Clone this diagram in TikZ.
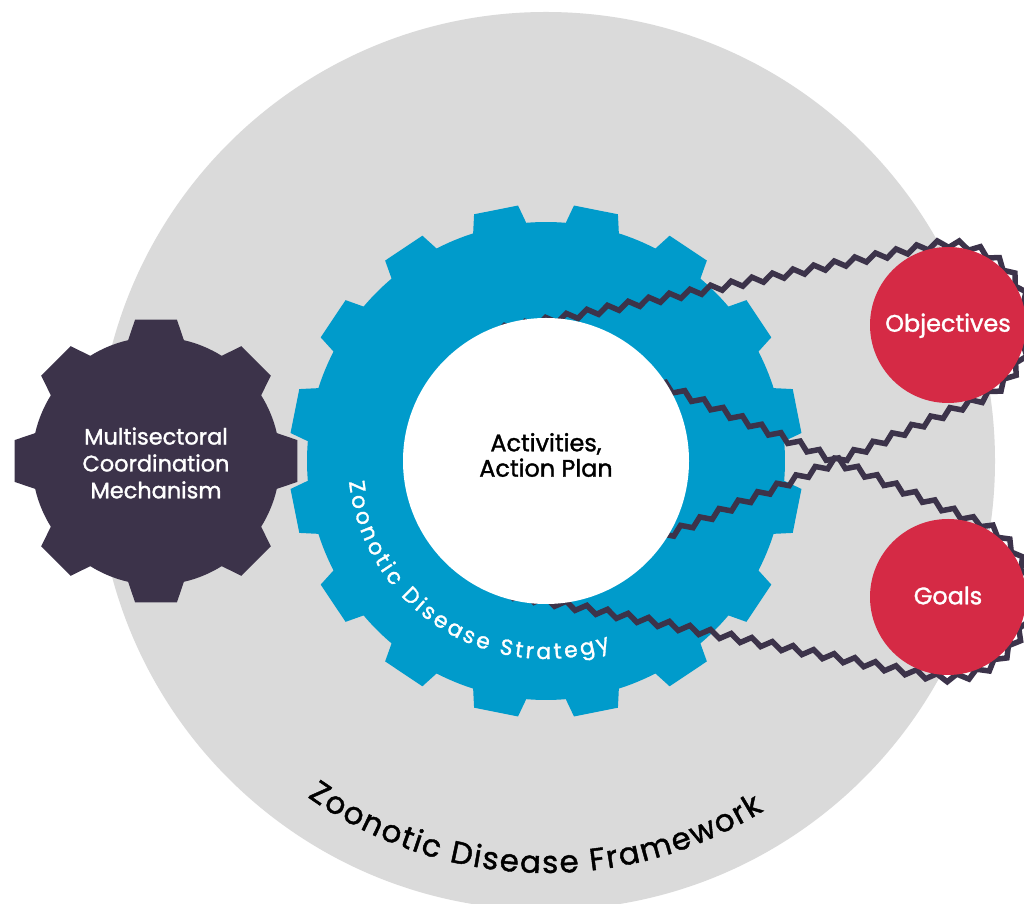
\documentclass[tikz,border=0pt]{standalone}
\usepackage{fontspec}
\setmainfont{Poppins}[FakeBold=1.4]
\usetikzlibrary{calc,decorations.pathmorphing,decorations.text}
\definecolor{bggray}{HTML}{DADADA}
\definecolor{gearblue}{HTML}{009BCB}
\definecolor{geardark}{HTML}{3C334A}
\definecolor{goalred}{HTML}{D52A45}
\begin{document}
\begin{tikzpicture}[x=1bp,y=1bp,
  chain/.style={draw=geardark, line width=5.5bp, line join=miter, decorate,
    decoration={zigzag, segment length=21bp, amplitude=3.6bp}},
  txt/.style={align=center, inner sep=0pt, outer sep=0pt},
  disc/.style={circle, inner sep=0pt, outer sep=0pt}]
\useasboundingbox (0,0) rectangle (1024,904);
\clip (0,0) rectangle (1024,904);
\fill[white] (0,0) rectangle (1024,904);
% framework circle
\node[disc, fill=bggray, minimum size=898bp] (frame) at (546,443) {};
% blue gear
\fill[gearblue, shift={(546,443)}] (4.75:239)
  \foreach \k [evaluate=\k as \a using 11.25+22.5*\k] in {0,...,15}
  { -- (\a-6.5:239) -- (\a-5:257) -- (\a+5:257) -- (\a+6.5:239)
    arc[start angle=\a+6.5, end angle=\a+16, radius=239] } -- cycle;
% red wheels (positions)
\coordinate (O) at (948,579);
\coordinate (G) at (948,307);
\coordinate (C) at (546,443);
% chains
\draw[chain] ($(C)+(-46,131)$) -- ($(O)+(100.3:81)$)
  arc[start angle=100.3, end angle=-75, radius=81] -- ($(C)+(94,-86)$);
\draw[chain] ($(C)+(94,86)$) -- ($(G)+(75:81)$)
  arc[start angle=75, end angle=-100.3, radius=81] -- ($(C)+(-46,-131)$);
% centre disc
\node[disc, fill=white, minimum size=286bp] (act) at (C) {};
\node[disc, fill=goalred, minimum size=156bp] (obj) at (O) {};
\node[disc, fill=goalred, minimum size=156bp] (goal) at (G) {};
% dark gear
\fill[geardark, shift={(156,443)}] (-13:124)
  \foreach \k [evaluate=\k as \a using 45*\k] in {0,...,7}
  { -- (\a-13:124) -- (\a-8.4:143) -- (\a+8.4:143) -- (\a+13:124)
    arc[start angle=\a+13, end angle=\a+32, radius=124] } -- cycle;
\coordinate (M) at (156,443);
% texts
\node[txt, text=white, font=\fontsize{22.5}{27}\selectfont] (mcm) at (156,441)
  {Multisectoral\\Coordination\\Mechanism};
\node[txt, text=black, font=\fontsize{24}{25.5}\selectfont] (acttext) at (546,449)
  {Activities,\\Action Plan};
\node[txt, text=white, font=\fontsize{24}{24}\selectfont, anchor=base] (objtext) at (948,572.3) {Objectives};
\node[txt, text=white, font=\fontsize{24}{24}\selectfont, anchor=base] (goaltext) at (948,299.7) {Goals};
% curved labels
\path[decorate, decoration={text along path, text color=white, text align=fit to path,
  text={|\fontsize{22}{22}\selectfont|Zoonotic Disease Strategy}}]
  ($(C)+(186:198)$) arc[start angle=186, end angle=289, radius=198];
\path[decorate, decoration={text along path, text color=black, text align=fit to path,
  text={|\fontsize{31}{31}\selectfont|Zoonotic Disease Framework}}]
  ($(C)+(234.6:412)$) arc[start angle=234.6, end angle=301.9, radius=412];
\end{tikzpicture}
\end{document}
